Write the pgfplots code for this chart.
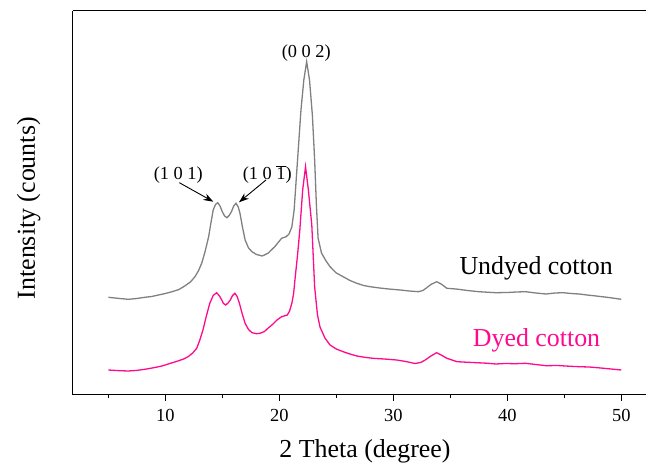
\documentclass[border=0pt]{standalone}
\usepackage{pgfplots}
\pgfplotsset{compat=1.18}
\usepackage{fontspec}
\setmainfont{Liberation Serif}
\usetikzlibrary{arrows.meta}
\definecolor{undyed}{RGB}{128,128,128}
\definecolor{dyed}{RGB}{255,10,140}
\begin{document}
\begin{tikzpicture}
\begin{axis}[
  scale only axis,
  width=573bp, height=383bp,
  xmin=1.9, xmax=52.17,
  ymin=0, ymax=383,
  axis line style={draw=none},
  xtick={10,20,30,40,50},
  minor xtick={5,15,25,35,45},
  ytick=\empty,
  xtick pos=bottom,
  tick align=outside,
  major tick length=6.7bp,
  minor tick length=4bp,
  every tick/.style={black, line width=1bp},
  /pgf/number format/assume math mode=true,
  ticklabel style={font=\fontsize{18.5}{22}\selectfont},
  xticklabel style={yshift=-5bp},
  xlabel={2 Theta (degree)},
  xlabel style={font=\fontsize{26}{30}\selectfont, at={(axis description cs:0.5096,0)}, anchor=base, yshift=-63bp},
  ylabel={Intensity (counts)},
  ylabel style={font=\fontsize{26}{30}\selectfont, at={(axis description cs:0,0.485)}, anchor=base, yshift=38bp},
  clip=false,
]
\addplot[color=undyed, line width=1.3bp] coordinates {
(5.0,96.7) (6.0,95.5) (6.75,94.7) (7.5,95.5) (8.2,96.7) (8.8,97.5) (9.4,99) (10.0,100.5) (10.6,102.3) (11.2,104.5) (11.7,108) (12.2,112) (12.6,117.3) (12.9,123) (13.2,131) (13.5,143) (13.8,157.3) (14.0,171) (14.2,184) (14.4,189.5) (14.6,191.3) (14.8,188) (15.0,182.3) (15.2,178) (15.4,176.3) (15.6,178.5) (15.8,182.3) (16.0,188) (16.2,190.7) (16.4,187) (16.55,180.7) (16.75,168) (17.0,154) (17.3,146) (17.6,142.3) (18.0,139.5) (18.5,138) (19.0,140.7) (19.6,147.3) (20.2,155.7) (20.6,157.3) (20.85,160) (21.1,167) (21.3,184) (21.6,234) (21.9,284) (22.15,314) (22.4,332.3) (22.65,314) (22.9,279) (23.1,234) (23.25,190) (23.4,156) (23.7,141) (24.1,133) (24.45,127.3) (25.0,121) (25.6,117.3) (26.2,113.5) (26.8,110.7) (27.4,108.5) (27.96,107.3) (28.8,106) (29.6,105) (30.6,104) (31.4,103) (32.2,102.3) (32.6,103.5) (32.9,106) (33.3,109.5) (33.8,112.3) (34.2,110) (34.7,105.7) (35.5,105) (36.5,103.5) (37.5,102.3) (38.2,101.8) (39.0,101.3) (40.0,101.5) (40.8,102) (41.6,102.3) (42.5,101) (43.4,100) (44.2,101) (44.9,101.3) (45.6,100.5) (46.3,100) (47.0,99) (47.8,98) (48.9,96.5) (50.0,94.7)
};
\addplot[color=dyed, line width=1.3bp] coordinates {
(5.0,24) (6.0,23.3) (6.75,23) (7.5,23.6) (8.2,24.7) (9.0,26.3) (9.7,28) (10.4,30.5) (11.1,33) (11.6,35) (12.0,37.3) (12.4,41) (12.75,45.7) (13.0,53) (13.3,64) (13.6,78) (13.9,90.7) (14.2,98.5) (14.5,101.3) (14.75,98) (14.95,94) (15.1,90.5) (15.3,89) (15.5,91) (15.7,94) (15.9,98.5) (16.1,100.7) (16.3,97.5) (16.5,90.7) (16.75,80) (17.0,70.7) (17.3,64.5) (17.6,61.3) (18.0,60.3) (18.3,60.7) (18.7,62.5) (19.0,65.7) (19.4,69.5) (19.8,74) (20.2,77.3) (20.7,79) (20.9,83) (21.1,90.7) (21.25,100) (21.4,117.3) (21.6,139) (21.8,164) (22.05,204) (22.3,227.3) (22.55,204) (22.85,169) (23.1,107) (23.35,79) (23.57,67) (24.0,56) (24.45,49) (25.0,45) (25.6,42.3) (26.2,40) (26.8,38) (27.5,36.7) (28.2,35.7) (29.2,35) (30.3,34) (31.1,32.5) (31.9,30.5) (32.4,31.5) (32.8,34) (33.3,38) (33.8,41.3) (34.2,39) (34.7,35.7) (35.6,32.3) (36.4,31.8) (37.3,31.3) (38.2,30.8) (39.0,30) (39.8,30.5) (40.7,30.3) (41.6,30.7) (42.5,29.5) (43.4,28.3) (44.4,28.5) (45.4,27.8) (46.3,27.3) (47.2,27) (48.2,26) (49.1,25) (50.0,24)
};
\draw[black, line width=1bp] (rel axis cs:0,1) -- (rel axis cs:0,0) -- (rel axis cs:1,0);
\draw[black, line width=1bp] (rel axis cs:0,1) -- (rel axis cs:1,1);
\node[anchor=base, font=\fontsize{18.4}{22}\selectfont] at (axis cs:22.36,336.7) {(0 0 2)};
\node[anchor=base, font=\fontsize{18.4}{22}\selectfont] at (axis cs:11.14,214) {(1 0 1)};
\node[anchor=base, font=\fontsize{18.4}{22}\selectfont] at (axis cs:18.94,214) {(1 0 \ensuremath{\overline{\mbox{1}}})};
\draw[-{Stealth[length=10bp,width=7bp]}, black, line width=0.9bp] (axis cs:11.23,211.3) -- (axis cs:14.21,192.3);
\draw[-{Stealth[length=10bp,width=7bp]}, black, line width=0.9bp] (axis cs:18.83,214) -- (axis cs:16.46,191.7);
\node[anchor=base west, font=\fontsize{26}{30}\selectfont, text=black] at (axis cs:35.5,119) {Undyed cotton};
\node[anchor=base west, font=\fontsize{26}{30}\selectfont, text=dyed] at (axis cs:36.67,47.3) {Dyed cotton};
\end{axis}
\pgfresetboundingbox
\path[use as bounding box] (-73bp,-69bp) rectangle (573bp,394bp);
\end{tikzpicture}
\end{document}
